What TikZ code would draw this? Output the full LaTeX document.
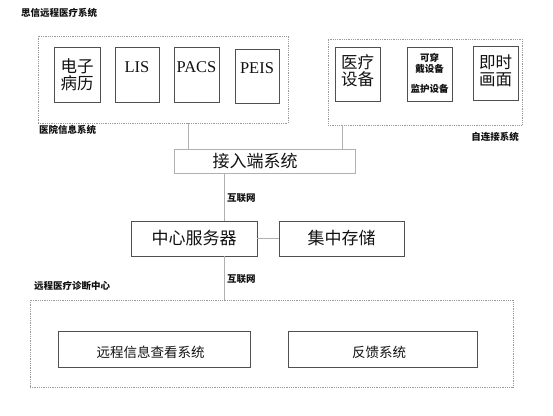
\documentclass[tikz,border=0pt]{standalone}
\usepackage{fontspec}
\setmainfont{Liberation Serif}
\newfontfamily\cjk{Noto Sans CJK SC}
\usepackage{xcolor}
\definecolor{diagDotted}{HTML}{9A9A9A}
\definecolor{diagBox}{HTML}{505050}
\definecolor{diagLink}{HTML}{B0B0B0}
\definecolor{diagText}{HTML}{111111}

\tikzset{
  groupbox/.style={draw=diagDotted, densely dotted, line width=0.8pt, inner sep=0pt},
  sysbox/.style={draw=diagBox, line width=0.8pt, inner sep=0pt},
  linkbox/.style={draw=diagLink, line width=0.8pt, inner sep=0pt},
  link/.style={draw=diagLink, line width=0.8pt},
  smalltag/.style={font=\cjk\bfseries\fontsize{9.5}{11}\selectfont, text=diagText, inner sep=0pt},
  bigtext/.style={font=\cjk\fontsize{16.5}{17}\selectfont, text=diagText, align=center, inner sep=0pt},
  latintext/.style={font=\fontsize{16.5}{17}\selectfont, text=diagText, inner sep=0pt}
}

\begin{document}
\begin{tikzpicture}[x=1pt,y=-1pt]
  \useasboundingbox (0,0) rectangle (553,415);
  \node[smalltag, anchor=west] (title) at (21,13) {思信远程医疗系统};

  \node[groupbox, minimum width=250pt, minimum height=87pt] (his) at (163,79.5) {};
  \node[smalltag, anchor=west] (hisTag) at (39,130) {医院信息系统};
  \node[sysbox, minimum width=46pt, minimum height=55pt] (emr) at (77,74.5) {};
  \node[bigtext] (emrText) at (77,74.5) {电子\\病历};
  \node[sysbox, minimum width=44pt, minimum height=55pt] (lis) at (137,74.5) {};
  \node[latintext] (lisText) at (137,67) {LIS};
  \node[sysbox, minimum width=45pt, minimum height=55pt] (pacs) at (196.5,74.5) {};
  \node[latintext] (pacsText) at (196.5,67) {PACS};
  \node[sysbox, minimum width=44pt, minimum height=54pt] (peis) at (257,76) {};
  \node[latintext] (peisText) at (257,68) {PEIS};

  \node[groupbox, minimum width=194pt, minimum height=86pt] (self) at (425,82) {};
  \node[smalltag, anchor=east] (selfTag) at (519,137) {自连接系统};
  \node[sysbox, minimum width=45pt, minimum height=54pt] (med) at (357.5,74) {};
  \node[bigtext] (medText) at (357.5,71) {医疗\\设备};
  \node[sysbox, minimum width=45pt, minimum height=54pt] (wear) at (429.5,74) {};
  \node[smalltag] (wearA) at (429.5,58) {可穿};
  \node[smalltag] (wearB) at (429.5,68.5) {戴设备};
  \node[smalltag] (wearC) at (429.5,89) {监护设备};
  \node[sysbox, minimum width=45pt, minimum height=54pt] (live) at (495.5,73) {};
  \node[bigtext] (liveText) at (495.5,70.5) {即时\\画面};

  \node[linkbox, minimum width=181pt, minimum height=24pt] (access) at (264.5,161) {};
  \node[bigtext, font=\cjk\fontsize{17}{18}\selectfont] (accessText) at (255,161.5) {接入端系统};
  \draw[link] ([xshift=25pt]his.south) -- ([xshift=25pt]his.south |- access.north);
  \draw[link] ([xshift=-83pt]self.south) -- ([xshift=-83pt]self.south |- access.north);

  \node[sysbox, minimum width=126pt, minimum height=35pt, bigtext, font=\cjk\fontsize{17}{18}\selectfont] (server) at (194,238.5) {中心服务器};
  \node[sysbox, minimum width=125pt, minimum height=35pt, bigtext, font=\cjk\fontsize{17}{18}\selectfont] (store) at (341.5,238.5) {集中存储};
  \draw[link] ([xshift=30pt]server.north) -- ([xshift=30pt]server.north |- access.south);
  \node[smalltag, anchor=west] (netA) at (227,198) {互联网};
  \draw[link] (server.east) -- (store.west);

  \node[groupbox, minimum width=483pt, minimum height=87pt] (remote) at (271.5,343.5) {};
  \draw[link] ([xshift=30pt]server.south) -- ([xshift=30pt]server.south |- remote.north);
  \node[smalltag, anchor=west] (netB) at (227,279) {互联网};
  \node[smalltag, anchor=west] (remoteTag) at (34,286) {远程医疗诊断中心};
  \node[sysbox, minimum width=192pt, minimum height=36pt] (view) at (154,349) {};
  \node[bigtext, font=\cjk\fontsize{13.5}{15}\selectfont] (viewText) at (150.5,352) {远程信息查看系统};
  \node[sysbox, minimum width=189pt, minimum height=36pt] (feed) at (382.5,349) {};
  \node[bigtext, font=\cjk\fontsize{13.5}{15}\selectfont] (feedText) at (379,352) {反馈系统};
\end{tikzpicture}
\end{document}
